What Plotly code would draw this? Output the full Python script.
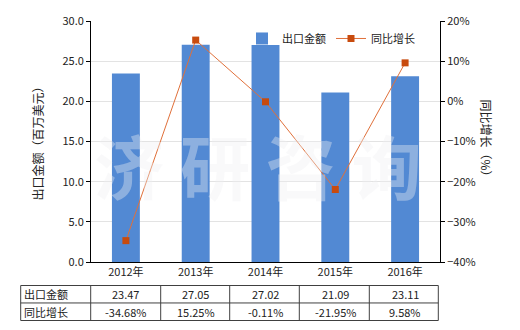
import plotly.graph_objects as go

years = ["2012年", "2013年", "2014年", "2015年", "2016年"]
export_value = [23.47, 27.05, 27.02, 21.09, 23.11]
yoy_growth = [-34.68, 15.25, -0.11, -21.95, 9.58]
value_labels = ["23.47", "27.05", "27.02", "21.09", "23.11"]
growth_labels = ["-34.68%", "15.25%", "-0.11%", "-21.95%", "9.58%"]
series_names = ["出口金额", "同比增长"]
left_title = "出口金额（百万美元）"
right_title = "同比增长（%）"
watermark = "济 研 咨 询"

W, H = 520, 330
L, R, T, B = 91, 440, 19, 262
FONT = "Noto Sans CJK SC, Microsoft YaHei, sans-serif"


def px(x):
    return (x - L) / (R - L)


def py(y):
    return (B - y) / (B - T)


fig = go.Figure()
fig.add_trace(go.Bar(x=years, y=export_value, name=series_names[0],
                     marker=dict(color="#5289d3", line=dict(width=0)),
                     yaxis="y"))
fig.add_trace(go.Scatter(x=years, y=yoy_growth, name=series_names[1],
                         mode="lines+markers", yaxis="y2",
                         line=dict(color="#e0703a", width=1),
                         marker=dict(symbol="square", size=7, color="#c84b0e")))

shapes = []
annotations = []

# watermark
annotations.append(dict(text=watermark, x=px(258), y=py(164), xref="paper", yref="paper",
                        showarrow=False, font=dict(size=70, color="rgba(238,238,243,0.38)",
                                                   family=FONT, weight="bold")))

# axis titles
annotations.append(dict(text=left_title, x=px(27), y=py(140), xref="paper", yref="paper",
                        showarrow=False, textangle=-90,
                        font=dict(size=12, color="#222", family=FONT)))
annotations.append(dict(text=right_title, x=px(497), y=py(140), xref="paper", yref="paper",
                        showarrow=False, textangle=90,
                        font=dict(size=12, color="#222", family=FONT)))

# table grid
row_y = [285.7, 303.3, 321]
col_x = [20.7, 90.7, 160.7, 229.7, 299.3, 369.3, 438.3]
lc = "#404040"
for yy in row_y:
    shapes.append(dict(type="line", xref="paper", yref="paper",
                       x0=px(col_x[0]), x1=px(col_x[-1]), y0=py(yy), y1=py(yy),
                       line=dict(color=lc, width=1)))
for xx in col_x:
    shapes.append(dict(type="line", xref="paper", yref="paper",
                       x0=px(xx), x1=px(xx), y0=py(row_y[0]), y1=py(row_y[-1]),
                       line=dict(color=lc, width=1)))

rows = [(series_names[0], value_labels), (series_names[1], growth_labels)]
for i, (name, labels) in enumerate(rows):
    yc = py((row_y[i] + row_y[i + 1]) / 2)
    annotations.append(dict(text=name, x=px(22), y=yc, xref="paper", yref="paper",
                            xanchor="left", yanchor="middle", showarrow=False,
                            font=dict(size=11, color="#222", family=FONT)))
    for j, lab in enumerate(labels):
        annotations.append(dict(text=lab, x=years[j], y=yc, xref="x", yref="paper",
                                xanchor="center", yanchor="middle", showarrow=False,
                                font=dict(size=11, color="#222", family=FONT)))

fig.update_layout(
    width=W, height=H,
    margin=dict(l=L, r=W - R, t=T, b=H - B),
    paper_bgcolor="white", plot_bgcolor="white",
    font=dict(family=FONT, size=11, color="#222"),
    bargap=0.6,
    showlegend=True,
    legend=dict(orientation="h", x=px(242), y=py(22), xanchor="left", yanchor="top",
                bgcolor="rgba(0,0,0,0)", font=dict(size=11, family=FONT),
                itemwidth=30, tracegroupgap=0),
    xaxis=dict(showline=True, linecolor="black", linewidth=1, ticks="",
               tickfont=dict(size=11), showgrid=False),
    yaxis=dict(range=[0, 30], dtick=5, tickformat=".1f", showline=True,
               linecolor="black", linewidth=1, ticks="outside", ticklen=4,
               tickcolor="black", showgrid=True, gridcolor="#e3e3e3",
               zeroline=False, tickfont=dict(size=11)),
    yaxis2=dict(range=[-40, 20], dtick=10, ticksuffix="%", overlaying="y",
                side="right", showline=True, linecolor="black", linewidth=1,
                ticks="outside", ticklen=4, tickcolor="black", showgrid=False,
                zeroline=False, tickfont=dict(size=11)),
    shapes=shapes,
    annotations=annotations,
)

fig.write_html("out.html")
